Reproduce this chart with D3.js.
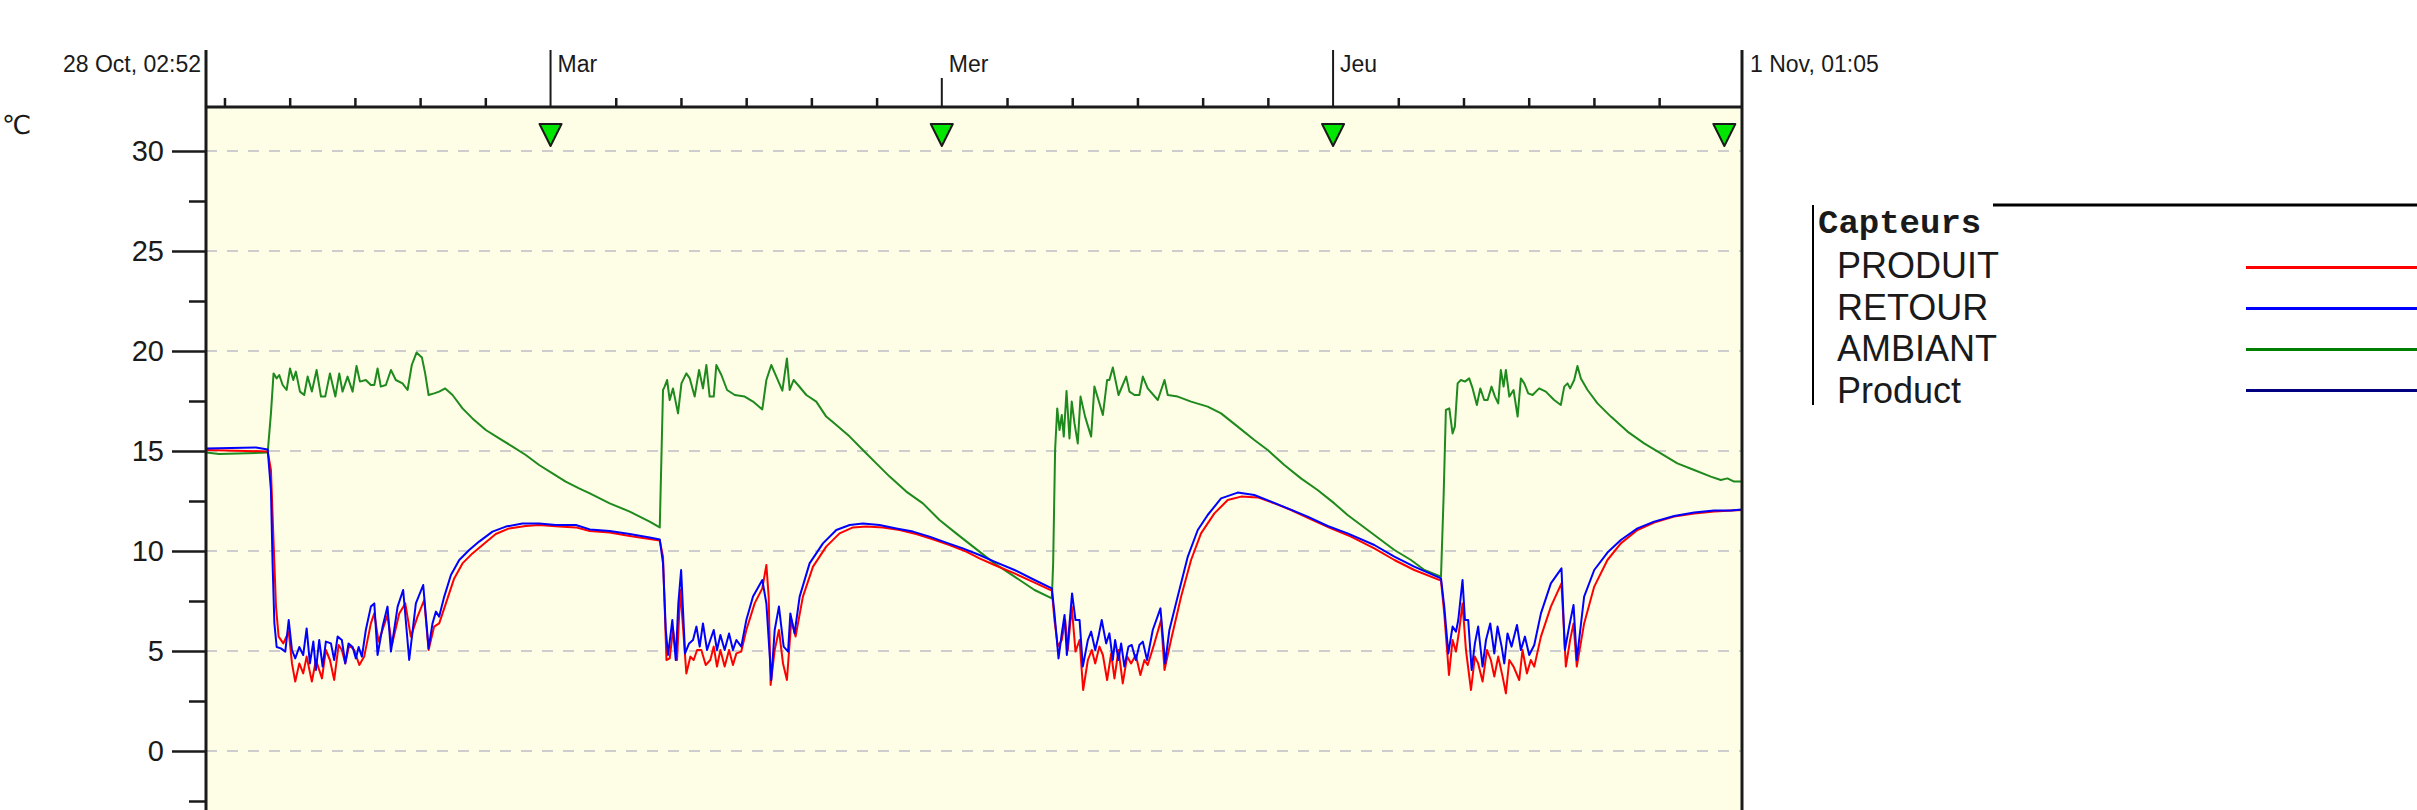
<!DOCTYPE html>
<html>
<head>
	<meta charset="utf-8">
	<script type="text/javascript" src="https://d3js.org/d3.v7.min.js"></script>
	<title>Capteurs</title>
	<style>
		body { margin: 0; background: #fff; }
		text { font-family: "Liberation Sans", Arial, sans-serif; fill: #1a1a1a; }
	</style>
</head>
<body>
	<script type="text/javascript">
		// [hours since 28 Oct 00:00, °C]
		var produit = [[2.87,15.05],[6.65,14.98],[6.85,14.05],[7.06,9.38],[7.16,7.22],[7.32,5.72],[7.61,5.38],[7.94,5.97],[8.14,4.38],[8.34,3.47],[8.59,4.38],[8.83,3.88],[9.04,4.72],[9.36,3.47],[9.61,4.55],[9.98,3.63],[10.22,5.05],[10.47,4.55],[10.73,3.55],[11.00,5.3],[11.20,5.05],[11.41,4.38],[11.65,5.3],[11.96,5.05],[12.27,4.3],[12.57,4.72],[12.98,6.38],[13.19,6.88],[13.45,5.47],[14.00,6.8],[14.27,5.3],[14.72,6.88],[15.09,7.38],[15.43,5.72],[15.84,6.72],[16.25,7.55],[16.52,5.05],[16.86,6.22],[17.17,6.38],[17.58,7.38],[18.09,8.63],[18.60,9.38],[19.21,9.88],[19.83,10.3],[20.64,10.85],[21.46,11.13],[22.48,11.25],[23.30,11.3],[24.53,11.22],[25.55,11.18],
			[26.41,11.0],[27.63,10.92],[28.86,10.75],[30.08,10.6],[30.70,10.52],[30.90,9.72],[31.11,4.55],[31.31,4.63],[31.51,6.05],[31.76,4.55],[31.96,8.05],[32.33,3.88],[32.58,4.72],[32.78,4.55],[32.99,5.05],[33.25,5.05],[33.52,4.3],[33.80,4.55],[34.01,5.22],[34.21,4.22],[34.42,5.05],[34.68,4.22],[34.95,5.05],[35.19,4.3],[35.40,4.88],[35.70,4.97],[36.01,6.05],[36.52,7.38],[36.99,8.13],[37.24,9.3],[37.38,7.72],[37.50,3.3],[37.75,5.05],[38.01,6.05],[38.26,4.38],[38.50,3.55],[38.77,6.55],[39.03,5.72],[39.48,7.72],[40.10,9.22],[40.91,10.22],[41.73,10.88],[42.55,11.18],[43.37,11.22],[44.39,11.18],[45.41,11.05],[46.43,10.85],[47.45,10.58],[48.47,10.3],[49.50,9.97],[50.31,9.63],
			[51.23,9.3],[52.46,8.88],[53.69,8.42],[54.75,8.02],[54.91,6.55],[55.12,5.22],[55.36,5.55],[55.57,6.55],[55.73,5.05],[55.97,7.22],[56.20,4.97],[56.45,5.55],[56.67,3.05],[56.96,4.55],[57.20,5.05],[57.41,4.38],[57.67,5.22],[57.88,4.8],[58.14,3.55],[58.39,4.88],[58.59,3.63],[58.84,5.05],[59.10,3.38],[59.37,4.72],[59.61,4.38],[59.90,4.8],[60.18,3.8],[60.43,4.55],[60.63,4.3],[61.04,5.38],[61.45,6.55],[61.66,4.05],[62.06,5.55],[62.68,7.72],[63.29,9.55],[63.90,10.88],[64.72,11.88],[65.54,12.55],[66.36,12.72],[67.38,12.68],[68.40,12.38],[69.42,12.05],[70.65,11.58],[71.87,11.13],[73.10,10.72],
			[74.53,10.13],[75.76,9.55],[76.98,9.05],[78.62,8.52],[78.82,6.88],[79.11,3.8],[79.33,5.55],[79.54,4.97],[79.74,6.05],[79.94,7.38],[80.15,5.05],[80.46,3.05],[80.70,4.72],[80.90,4.38],[81.17,3.47],[81.44,5.05],[81.68,4.55],[81.89,3.72],[82.13,4.72],[82.40,3.72],[82.60,2.88],[82.81,4.55],[83.07,4.22],[83.42,3.55],[83.62,5.05],[83.89,3.88],[84.13,4.55],[84.34,4.22],[84.75,5.72],[85.36,7.22],[86.01,8.38],[86.28,4.22],[86.54,5.55],[86.75,6.38],[86.95,4.22],[87.40,6.38],[88.02,8.22],[88.83,9.55],[89.65,10.38],[90.67,11.05],[91.69,11.42],[92.92,11.72],[94.15,11.88],[95.37,11.97],[97.08,12.05]];

		var retour = [[2.87,15.13],[5.93,15.18],[6.65,15.08],[6.85,13.05],[6.95,9.4],[7.06,6.4],[7.20,5.2],[7.46,5.13],[7.73,4.97],[7.94,6.55],[8.14,5.05],[8.34,4.63],[8.59,5.2],[8.83,4.8],[9.04,6.13],[9.24,4.38],[9.45,5.47],[9.61,4.05],[9.81,5.55],[10.02,4.22],[10.22,5.47],[10.53,5.38],[10.73,4.55],[10.94,5.72],[11.20,5.55],[11.41,4.38],[11.61,5.38],[11.86,5.2],[12.06,4.63],[12.23,5.2],[12.43,4.72],[12.67,6.05],[12.98,7.22],[13.19,7.38],[13.39,4.8],[13.70,6.22],[14.00,7.22],[14.21,4.97],[14.62,7.22],[14.96,8.05],[15.33,4.55],[15.74,7.38],[16.19,8.3],[16.52,5.13],[16.76,6.38],[16.97,6.97],[17.17,6.72],[17.48,7.72],[17.89,8.8],[18.40,9.55],[19.01,10.05],[19.62,10.47],[20.44,10.97],[21.26,11.22],[22.28,11.38],[23.30,11.38],[24.32,11.3],[25.55,11.3],
			[26.41,11.08],[27.63,11.0],[28.86,10.85],[30.08,10.68],[30.70,10.58],[30.90,9.38],[31.07,6.05],[31.21,4.8],[31.47,6.55],[31.68,4.55],[31.84,7.38],[32.01,9.05],[32.25,4.88],[32.50,5.38],[32.74,5.55],[32.95,6.22],[33.15,5.22],[33.35,6.38],[33.60,5.05],[33.80,5.55],[34.01,6.05],[34.21,5.05],[34.42,5.8],[34.68,5.05],[34.95,5.88],[35.19,5.05],[35.40,5.55],[35.70,5.22],[36.01,6.55],[36.42,7.72],[36.99,8.55],[37.24,7.38],[37.54,3.55],[37.75,6.05],[38.01,7.22],[38.30,5.22],[38.57,4.97],[38.71,6.88],[38.97,5.88],[39.28,7.72],[39.89,9.38],[40.71,10.38],[41.53,11.05],[42.35,11.3],[43.16,11.38],[44.18,11.3],[45.21,11.13],[46.23,10.97],[47.25,10.72],[48.27,10.42],[49.29,10.13],[50.31,9.8],
			[51.23,9.47],[52.46,9.05],[53.69,8.55],[54.75,8.13],[54.91,6.88],[55.16,4.63],[55.36,5.88],[55.53,6.8],[55.67,4.8],[55.99,7.88],[56.20,6.55],[56.45,6.55],[56.65,4.22],[56.96,5.55],[57.16,5.97],[57.41,5.05],[57.61,5.72],[57.81,6.55],[58.08,5.38],[58.28,5.88],[58.49,4.55],[58.63,5.55],[58.84,4.55],[59.00,5.38],[59.20,4.22],[59.45,5.22],[59.65,5.3],[59.90,4.55],[60.12,5.3],[60.33,5.47],[60.59,4.55],[60.94,6.05],[61.41,7.13],[61.70,4.38],[61.96,6.05],[62.47,7.72],[63.09,9.72],[63.70,11.05],[64.31,11.8],[65.13,12.63],[66.15,12.92],[67.17,12.8],[68.20,12.47],[69.22,12.13],[70.44,11.72],[71.67,11.25],[72.89,10.88],
			[74.53,10.3],[75.76,9.72],[76.98,9.22],[78.62,8.63],[78.82,7.22],[79.07,4.88],[79.33,6.22],[79.54,5.97],[79.68,6.55],[79.94,8.55],[80.09,6.55],[80.29,6.55],[80.50,4.05],[80.70,5.38],[80.90,6.22],[81.17,4.22],[81.38,5.55],[81.64,6.38],[81.89,4.88],[82.09,6.22],[82.34,5.22],[82.50,4.38],[82.70,5.88],[82.95,5.22],[83.28,6.3],[83.52,5.05],[83.77,5.72],[84.03,4.8],[84.34,5.3],[84.75,6.88],[85.36,8.38],[86.01,9.13],[86.22,5.05],[86.48,6.22],[86.75,7.3],[86.95,4.55],[87.40,7.72],[88.02,9.05],[88.83,9.92],[89.65,10.55],[90.67,11.13],[91.69,11.47],[92.92,11.75],[94.15,11.92],[95.37,12.02],[96.39,12.02],[97.08,12.08]];

		var ambiant = [[2.87,14.92],[3.68,14.85],[6.65,14.92],[6.85,16.88],[7.01,18.88],[7.20,18.63],[7.36,18.8],[7.57,18.3],[7.81,18.05],[8.02,19.13],[8.22,18.55],[8.38,18.97],[8.63,17.97],[8.89,17.8],[9.10,18.72],[9.36,17.97],[9.65,19.05],[9.92,17.72],[10.18,17.72],[10.47,18.88],[10.80,17.72],[11.04,18.88],[11.24,17.97],[11.55,18.72],[11.86,17.97],[12.10,19.25],[12.31,18.47],[12.67,18.55],[12.98,18.3],[13.19,18.3],[13.39,19.13],[13.59,18.22],[13.90,18.3],[14.21,19.05],[14.51,18.55],[14.92,18.38],[15.23,18.05],[15.49,19.3],[15.78,19.92],[16.11,19.68],[16.31,18.88],[16.52,17.8],[16.86,17.88],[17.17,17.97],[17.54,18.13],[17.99,17.8],[18.60,17.13],[19.21,16.63],[20.03,16.05],[20.85,15.63],[21.67,15.22],[22.48,14.8],[23.30,14.3],[24.12,13.88],[24.93,13.47],[25.75,13.13],
			[26.41,12.88],[27.63,12.38],[28.86,11.97],[30.08,11.47],[30.70,11.18],[30.90,18.05],[31.00,18.22],[31.15,18.55],[31.31,17.55],[31.51,18.13],[31.82,16.88],[32.03,18.38],[32.33,18.88],[32.54,18.63],[32.84,17.72],[33.11,19.05],[33.35,18.13],[33.56,19.3],[33.76,17.72],[34.01,17.72],[34.17,19.3],[34.48,18.8],[34.83,18.05],[35.30,17.8],[35.91,17.72],[36.42,17.47],[36.99,17.08],[37.24,18.55],[37.54,19.3],[37.85,18.72],[38.22,18.02],[38.50,19.63],[38.67,18.05],[38.91,18.55],[39.18,18.3],[39.69,17.8],[40.30,17.47],[40.91,16.72],[41.53,16.3],[42.35,15.72],[43.16,15.05],[43.98,14.38],[44.80,13.72],[45.82,12.97],[46.84,12.38],[47.86,11.55],[48.88,10.88],[50.31,9.97],
			[51.23,9.38],[52.46,8.72],[53.69,8.05],[54.75,7.63],[54.83,9.38],[54.95,15.05],[55.08,17.13],[55.22,16.05],[55.36,16.8],[55.48,15.72],[55.65,18.0],[55.83,15.63],[55.97,17.47],[56.14,16.38],[56.34,15.38],[56.51,17.72],[56.79,16.72],[57.16,15.72],[57.36,18.22],[57.61,17.55],[57.88,16.8],[58.14,18.55],[58.28,18.55],[58.49,19.18],[58.84,17.8],[59.31,18.72],[59.51,17.97],[59.82,17.8],[60.12,17.8],[60.33,18.72],[60.63,18.13],[61.25,17.55],[61.66,18.55],[61.86,17.8],[62.47,17.72],[63.29,17.47],[64.31,17.22],[65.13,16.88],[66.15,16.22],[67.17,15.55],[67.99,15.05],[69.01,14.3],[70.03,13.63],[71.05,13.05],[72.08,12.38],[72.89,11.8],
			[74.53,10.8],[75.76,10.05],[76.78,9.55],[77.60,9.05],[78.62,8.72],[78.78,12.72],[78.92,17.05],[79.13,17.13],[79.33,15.88],[79.47,16.22],[79.64,18.38],[79.84,18.55],[80.09,18.47],[80.35,18.63],[80.56,18.13],[80.82,17.3],[81.03,18.13],[81.27,17.55],[81.48,17.55],[81.72,18.22],[81.93,17.72],[82.13,17.38],[82.29,19.05],[82.46,18.22],[82.60,19.05],[82.81,17.72],[83.07,18.05],[83.32,16.72],[83.52,18.63],[83.73,18.38],[83.97,17.88],[84.24,17.8],[84.64,18.13],[85.05,17.97],[85.56,17.55],[85.97,17.3],[86.18,18.22],[86.38,18.38],[86.54,18.13],[86.79,18.55],[86.99,19.25],[87.20,18.63],[87.61,18.05],[88.22,17.38],[89.04,16.72],[90.06,15.97],[91.08,15.38],[92.10,14.88],[93.12,14.38],[94.15,14.05],[95.17,13.72],[95.78,13.55],[96.19,13.63],[96.60,13.47],[97.08,13.47]];

		var product = [];

		var seriesNames = ["PRODUIT", "RETOUR", "AMBIANT", "Product"];
		var seriesColors = ["#ff0000", "#0000ff", "#1e8a1e", "#000080"];
		var yMajor = [0, 5, 10, 15, 20, 25, 30];
		var yMinor = [-2.5, 2.5, 7.5, 12.5, 17.5, 22.5, 27.5];
		var dayLabels = ["Mar", "Mer", "Jeu"];
		var dayHours = [24, 48, 72];
		var markerHours = [24, 48, 72, 96];
		var startLabel = "28 Oct, 02:52";
		var endLabel = "1 Nov, 01:05";

		var W = 2417, H = 810;
		var plotLeft = 206, plotRight = 1742, plotTop = 107;

		function toDate(h) {
			return new Date(Date.UTC(2019, 9, 28) + h * 3600000);
		}

		var x = d3.scaleUtc()
				  .domain([new Date(Date.UTC(2019, 9, 28, 2, 52)), new Date(Date.UTC(2019, 10, 1, 1, 5))])
				  .range([plotLeft, plotRight]);
		var y = d3.scaleLinear().domain([0, 30]).range([751, 151]);

		var svg = d3.select("body")
					.append("svg")
					.attr("width", W)
					.attr("height", H);

		svg.append("clipPath").attr("id", "plot")
		   .append("rect").attr("x", plotLeft).attr("y", plotTop)
		   .attr("width", plotRight - plotLeft).attr("height", H - plotTop);

		// plot background
		svg.append("rect")
		   .attr("x", plotLeft).attr("y", plotTop)
		   .attr("width", plotRight - plotLeft).attr("height", H - plotTop)
		   .attr("fill", "#fefde6");

		// grid
		svg.selectAll(".grid")
		   .data(yMajor)
		   .enter()
		   .append("line")
		   .attr("x1", plotLeft).attr("x2", plotRight)
		   .attr("y1", function(d) { return y(d); })
		   .attr("y2", function(d) { return y(d); })
		   .attr("stroke", "#cdcdcd")
		   .attr("stroke-width", 2)
		   .attr("stroke-dasharray", "11,10");

		// y axis
		var yAxis = svg.append("g")
					   .attr("transform", "translate(" + plotLeft + ",0)")
					   .call(d3.axisLeft(y).tickValues(yMajor).tickSize(34).tickPadding(8));
		yAxis.select(".domain").remove();
		yAxis.selectAll("line").attr("stroke", "#1a1a1a").attr("stroke-width", 2.5);
		yAxis.selectAll("text")
			 .style("font-family", "\"Liberation Sans\", Arial, sans-serif")
			 .style("font-size", "29px")
			 .attr("fill", "#1a1a1a");

		var yMinorAxis = svg.append("g")
							.attr("transform", "translate(" + plotLeft + ",0)")
							.call(d3.axisLeft(y).tickValues(yMinor).tickSize(17).tickFormat(""));
		yMinorAxis.select(".domain").remove();
		yMinorAxis.selectAll("line").attr("stroke", "#1a1a1a").attr("stroke-width", 2.5);

		// top time axis, 4h minor ticks
		var minorTimes = d3.utcHour.every(4).range(x.domain()[0], x.domain()[1])
						   .filter(function(d) { return d.getUTCHours() != 0; });
		var xAxis = svg.append("g")
					   .attr("transform", "translate(0," + plotTop + ")")
					   .call(d3.axisTop(x).tickValues(minorTimes).tickSize(9).tickFormat(""));
		xAxis.select(".domain").remove();
		xAxis.selectAll("line").attr("stroke", "#1a1a1a").attr("stroke-width", 2.5);

		svg.append("line")
		   .attr("x1", plotLeft).attr("x2", plotRight).attr("y1", plotTop).attr("y2", plotTop)
		   .attr("stroke", "#1a1a1a").attr("stroke-width", 3);

		// day ticks and labels
		svg.selectAll(".day")
		   .data(dayHours)
		   .enter()
		   .append("line")
		   .attr("x1", function(d) { return x(toDate(d)); })
		   .attr("x2", function(d) { return x(toDate(d)); })
		   .attr("y1", function(d, i) { return i == 1 ? 78 : 50; })
		   .attr("y2", plotTop)
		   .attr("stroke", "#1a1a1a").attr("stroke-width", 2);

		svg.selectAll(".dayLabel")
		   .data(dayHours)
		   .enter()
		   .append("text")
		   .attr("x", function(d) { return x(toDate(d)) + 7; })
		   .attr("y", 72)
		   .style("font-size", "23px")
		   .text(function(d, i) { return dayLabels[i]; });

		svg.append("text")
		   .attr("x", plotLeft - 5).attr("y", 72)
		   .attr("text-anchor", "end")
		   .style("font-size", "23px")
		   .text(startLabel);
		svg.append("text")
		   .attr("x", plotRight + 8).attr("y", 72)
		   .style("font-size", "23px")
		   .text(endLabel);

		svg.append("text")
		   .attr("x", 2).attr("y", 134)
		   .style("font-family", "\"DejaVu Sans\", sans-serif")
		   .style("font-size", "26px")
		   .text("\u2103");

		// series
		var line = d3.line()
					 .x(function(d) { return x(toDate(d[0])); })
					 .y(function(d) { return y(d[1]); });

		var plotG = svg.append("g").attr("clip-path", "url(#plot)");
		var drawOrder = [[ambiant, 2], [produit, 0], [retour, 1], [product, 3]];
		drawOrder.forEach(function(s) {
			if (s[0].length == 0) return;
			plotG.append("path")
				 .attr("d", line(s[0]))
				 .attr("fill", "none")
				 .attr("stroke", seriesColors[s[1]])
				 .attr("stroke-width", 2)
				 .attr("stroke-linejoin", "round");
		});

		// event markers
		svg.selectAll(".marker")
		   .data(markerHours)
		   .enter()
		   .append("path")
		   .attr("d", function(d) {
				var cx = x(toDate(d));
				return "M" + (cx - 11) + ",124L" + (cx + 11) + ",124L" + cx + ",146Z";
		   })
		   .attr("fill", "#00e600")
		   .attr("stroke", "#1a1a1a")
		   .attr("stroke-width", 2)
		   .attr("stroke-linejoin", "round");

		// borders
		[plotLeft, plotRight].forEach(function(bx) {
			svg.append("line")
			   .attr("x1", bx).attr("x2", bx).attr("y1", 50).attr("y2", H)
			   .attr("stroke", "#1a1a1a").attr("stroke-width", 3);
		});

		// legend
		var lg = svg.append("g");
		lg.append("line").attr("x1", 1813).attr("x2", 1813).attr("y1", 205).attr("y2", 405)
		  .attr("stroke", "#000").attr("stroke-width", 2);
		lg.append("line").attr("x1", 1993).attr("x2", W).attr("y1", 205).attr("y2", 205)
		  .attr("stroke", "#000").attr("stroke-width", 3);
		lg.append("text")
		  .attr("x", 1818).attr("y", 233)
		  .style("font-family", "\"Liberation Mono\", \"Courier New\", monospace")
		  .style("font-weight", "bold")
		  .style("font-size", "34px")
		  .text("Capteurs");

		lg.selectAll(".item")
		  .data(seriesNames)
		  .enter()
		  .append("text")
		  .attr("x", 1837)
		  .attr("y", function(d, i) { return 278 + i * 41.7; })
		  .style("font-size", "36px")
		  .text(function(d) { return d; });

		lg.selectAll(".swatch")
		  .data(seriesNames)
		  .enter()
		  .append("line")
		  .attr("x1", 2246).attr("x2", W)
		  .attr("y1", function(d, i) { return 267.5 + i * 41; })
		  .attr("y2", function(d, i) { return 267.5 + i * 41; })
		  .attr("stroke", function(d, i) { return seriesColors[i] == "#1e8a1e" ? "#008000" : seriesColors[i]; })
		  .attr("stroke-width", 3);
	</script>
</body>
</html>
